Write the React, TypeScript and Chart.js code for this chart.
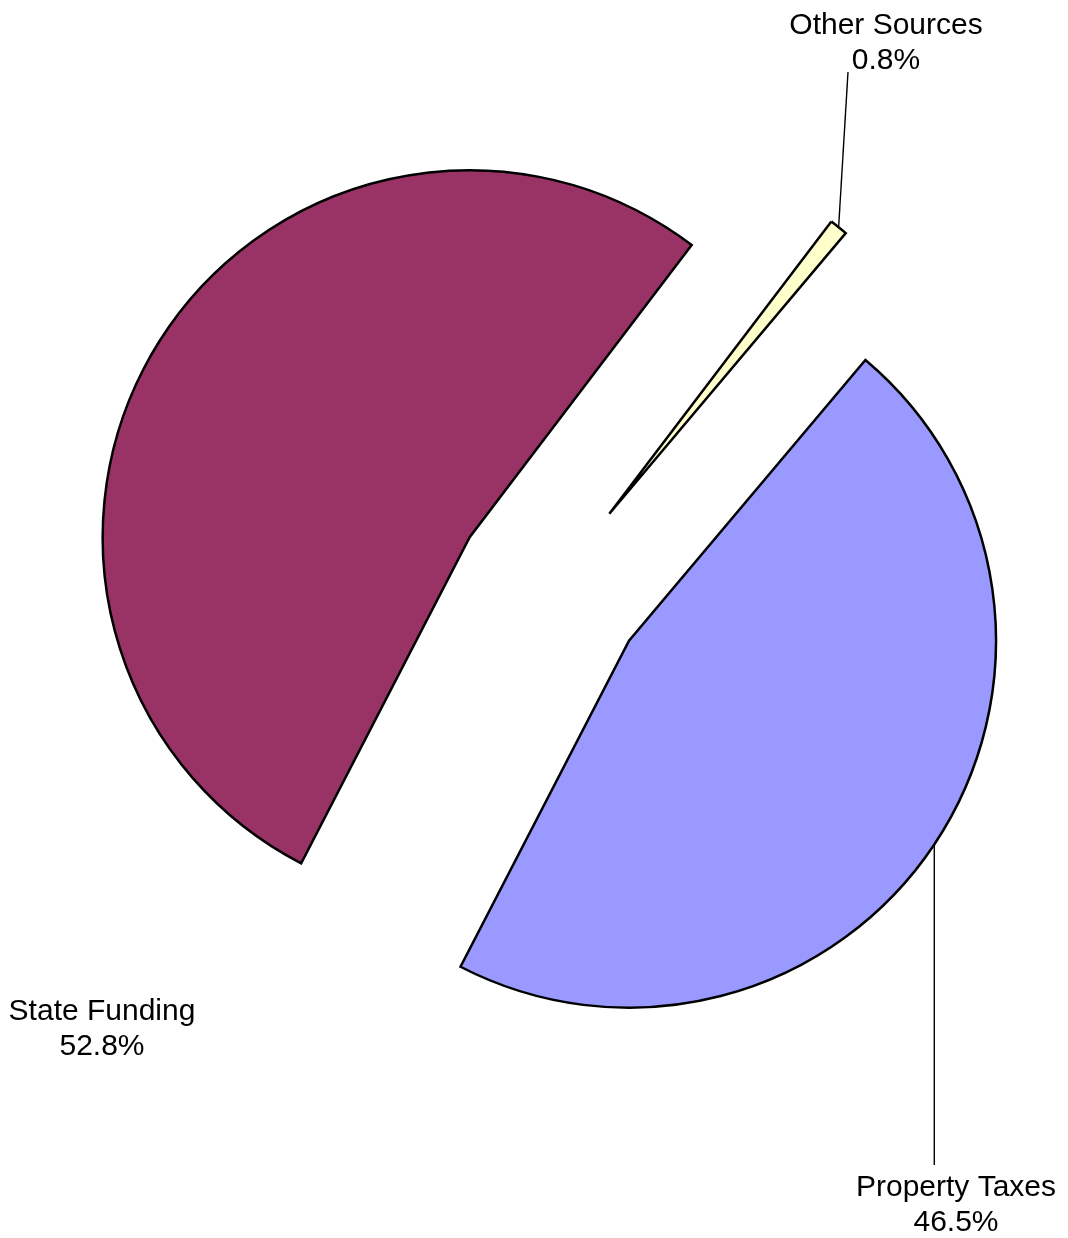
import React, { useEffect, useRef } from 'react';
import { Chart, registerables } from 'chart.js';

Chart.register(...registerables);

// ---- data ----
const categories = ['Property Taxes', 'State Funding', 'Other Sources'];
const shares = [46.5, 52.8, 0.8];
const sliceColors = ['#9999FF', '#993366', '#FFFFCC'];

// ---- layout / style ----
const W = 1068;
const H = 1238;
const RADIUS = 367;
const EXPLODE = 95;
const ROTATION = 40.1;
const FONT = '30px "Liberation Sans", Arial, sans-serif';
const LINE_H = 35;

// text centre x, first baseline y, leader style
const labelLayout: any[] = [
  { x: 956, y: 1196, leader: 'vertical', endY: 1165 },
  { x: 102, y: 1020, leader: null },
  { x: 886, y: 34, leader: 'point', endX: 848, endY: 72 },
];

const explodePlugin = {
  id: 'explodeLabels',
  beforeDatasetsDraw(chart: any) {
    const meta = chart.getDatasetMeta(0);
    const { left, right, top, bottom } = chart.chartArea;
    const cx = (left + right) / 2;
    const cy = (top + bottom) / 2;
    meta.data.forEach((el: any) => {
      const mid = (el.startAngle + el.endAngle) / 2;
      el.x = cx + Math.cos(mid) * EXPLODE;
      el.y = cy + Math.sin(mid) * EXPLODE;
    });
  },
  afterDatasetsDraw(chart: any) {
    const ctx = chart.ctx;
    const meta = chart.getDatasetMeta(0);
    ctx.save();
    ctx.strokeStyle = '#000';
    ctx.lineWidth = 1.4;
    ctx.font = FONT;
    ctx.fillStyle = '#000';
    ctx.textAlign = 'center';
    ctx.textBaseline = 'alphabetic';
    meta.data.forEach((el: any, i: number) => {
      const L = labelLayout[i];
      const mid = (el.startAngle + el.endAngle) / 2;
      const r = el.outerRadius;
      const ax = el.x + Math.cos(mid) * r;
      const ay = el.y + Math.sin(mid) * r;
      if (L.leader === 'vertical') {
        ctx.beginPath();
        ctx.moveTo(ax, ay);
        ctx.lineTo(ax, L.endY);
        ctx.stroke();
      } else if (L.leader === 'point') {
        ctx.beginPath();
        ctx.moveTo(ax, ay);
        ctx.lineTo(L.endX, L.endY);
        ctx.stroke();
      }
      ctx.fillText(categories[i], L.x, L.y);
      ctx.fillText(shares[i].toFixed(1) + '%', L.x, L.y + LINE_H);
    });
    ctx.restore();
  },
};

export default function App() {
  const ref = useRef<HTMLCanvasElement | null>(null);
  useEffect(() => {
    if (!ref.current) return;
    const chart = new Chart(ref.current, {
      type: 'pie',
      data: {
        labels: categories,
        datasets: [
          {
            data: shares,
            backgroundColor: sliceColors,
            borderColor: '#000',
            borderWidth: 2.5,
            borderJoinStyle: 'miter',
          } as any,
        ],
      },
      options: {
        responsive: false,
        maintainAspectRatio: false,
        animation: false,
        events: [],
        rotation: ROTATION,
        radius: RADIUS,
        layout: { padding: { left: 32, right: 0, top: 0, bottom: 62 } },
        plugins: {
          legend: { display: false },
          tooltip: { enabled: false },
        },
      } as any,
      plugins: [explodePlugin],
    });
    return () => chart.destroy();
  }, []);
  return (
    <div style={{ position: 'absolute', left: 0, top: 0, width: W, height: H, background: '#fff' }}>
      <canvas ref={ref} width={W} height={H} style={{ display: 'block' }} />
    </div>
  );
}
